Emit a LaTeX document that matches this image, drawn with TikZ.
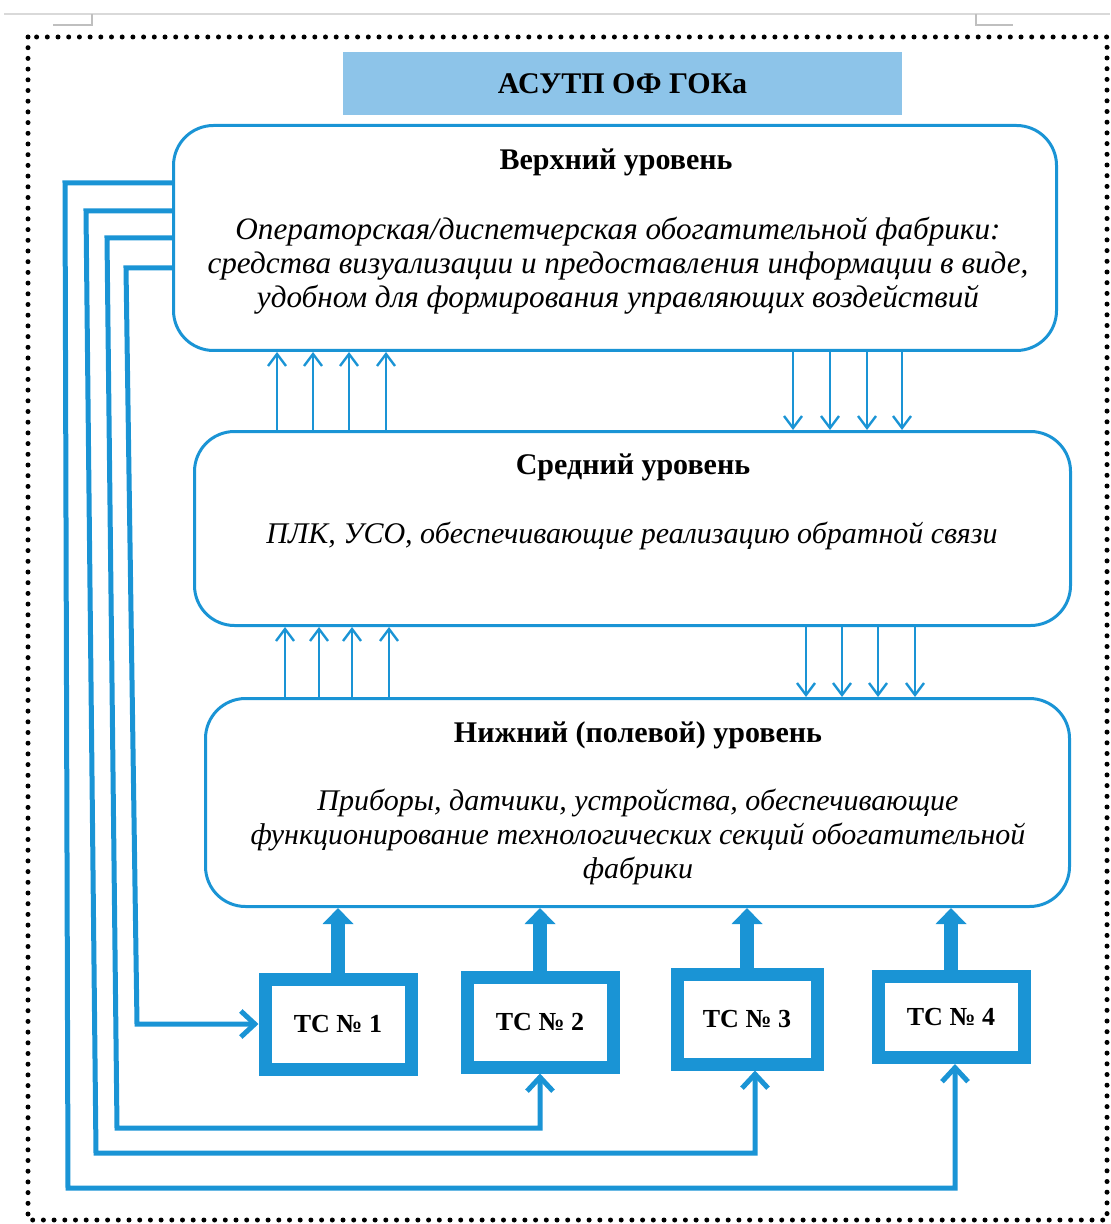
\documentclass[tikz,border=0pt]{standalone}
\usepackage{fontspec}
\setmainfont{Liberation Serif}
\usetikzlibrary{arrows.meta,positioning}
\definecolor{lineblue}{HTML}{1A94D5}
\definecolor{titleblue}{HTML}{8DC4E9}
\tikzset{
  tierbox/.style={draw=lineblue,line width=1.5pt,rounded corners=20pt,fill=white},
  tiertitle/.style={font=\fontsize{15}{17}\selectfont\bfseries},
  tiertext/.style={font=\fontsize{15}{17}\selectfont\itshape,align=center},
  tcbox/.style={draw=lineblue,line width=6.5pt,fill=white,minimum width=73pt,
    minimum height=45pt,font=\fontsize{13}{15}\selectfont\bfseries},
  flowarrow/.style={lineblue,line width=1.2pt,-{Straight Barb[length=6pt,width=9pt]}},
  linkarrow/.style={lineblue,line width=2.5pt,-{Straight Barb[length=7pt,width=13pt]}},
  feedarrow/.style={lineblue,line width=7pt,-{Triangle[length=8pt,width=15pt]}}
}
\begin{document}
\begin{tikzpicture}[x=0.5pt,y=-0.5pt]
\useasboundingbox (0,0) rectangle (1110,1224);
\draw[gray!30,line width=1pt] (4,14) -- (1110,14);
\draw[gray!50,line width=0.6pt] (53,25) -- (92,25) -- (92,14);
\draw[gray!50,line width=0.6pt] (976,14) -- (976,25) -- (1013,25);
\draw[line width=2.5pt,dash pattern=on 0pt off 5.35pt,line cap=round] (28,37) rectangle (1107,1220);

\node[fill=titleblue,minimum width=279.5pt,minimum height=31.5pt,inner sep=0pt,
  font=\fontsize{15}{17}\selectfont\bfseries] (title) at (622.5,83.5) {АСУТП ОФ ГОКа};

\node[tierbox,minimum width=441.5pt,minimum height=112.5pt] (top) at (615,238) {};
\node[tierbox,minimum width=438pt,minimum height=97pt] (mid) at (632.5,528.5) {};
\node[tierbox,minimum width=432pt,minimum height=104pt] (low) at (637.5,802.5) {};

\node[tiertitle] (toph) at (616,162) {Верхний уровень};
\node[tiertext,font=\fontsize{15.6}{17}\selectfont\itshape] (topt) at (618,266)
  {Операторская/диспетчерская обогатительной фабрики:\\
  средства визуализации и предоставления информации в виде,\\
  удобном для формирования управляющих воздействий};
\node[tiertitle] (midh) at (633,467) {Средний уровень};
\node[tiertext] (midt) at (632,536) {ПЛК, УСО, обеспечивающие реализацию обратной связи};
\node[tiertitle] (lowh) at (638,735) {Нижний (полевой) уровень};
\node[tiertext] (lowt) at (638,837) {Приборы, датчики, устройства, обеспечивающие\\
  функционирование технологических секций обогатительной\\
  фабрики};

\node[tcbox] (tc1) at (338,1024) {ТС № 1};
\node[tcbox] (tc2) at (540,1022) {ТС № 2};
\node[tcbox,minimum width=70pt] (tc3) at (747,1019) {ТС № 3};
\node[tcbox,minimum height=40.5pt] (tc4) at (951,1017) {ТС № 4};

\foreach \x in {277,313,349,386}
  \draw[flowarrow] (mid.north -| \x,0) -- (top.south -| \x,0);
\foreach \x in {793,830,867,902}
  \draw[flowarrow] (top.south -| \x,0) -- (mid.north -| \x,0);
\foreach \x in {285,319,352,389}
  \draw[flowarrow] (low.north -| \x,0) -- (mid.south -| \x,0);
\foreach \x in {806,842,878,915}
  \draw[flowarrow] (mid.south -| \x,0) -- (low.north -| \x,0);

\foreach \t in {tc1,tc2,tc3,tc4}
  \draw[feedarrow] (\t.north) -- (low.south -| \t.north);

\coordinate (a1) at (65,183);  \coordinate (a2) at (68,1188);  \coordinate (a3) at (955,1188);
\coordinate (b1) at (86,211);  \coordinate (b2) at (96,1153);  \coordinate (b3) at (755,1153);
\coordinate (c1) at (107,238); \coordinate (c2) at (117,1128); \coordinate (c3) at (540,1128);
\coordinate (d1) at (126,268); \coordinate (d2) at (137,1024);
\draw[linkarrow] (top.west |- a1) -- (a1) -- (a2) -- (a3) -- (a3 |- tc4.south);
\draw[linkarrow] (top.west |- b1) -- (b1) -- (b2) -- (b3) -- (b3 |- tc3.south);
\draw[linkarrow] (top.west |- c1) -- (c1) -- (c2) -- (c3) -- (c3 |- tc2.south);
\draw[linkarrow] (top.west |- d1) -- (d1) -- (d2) -- (tc1.west);
\end{tikzpicture}
\end{document}
